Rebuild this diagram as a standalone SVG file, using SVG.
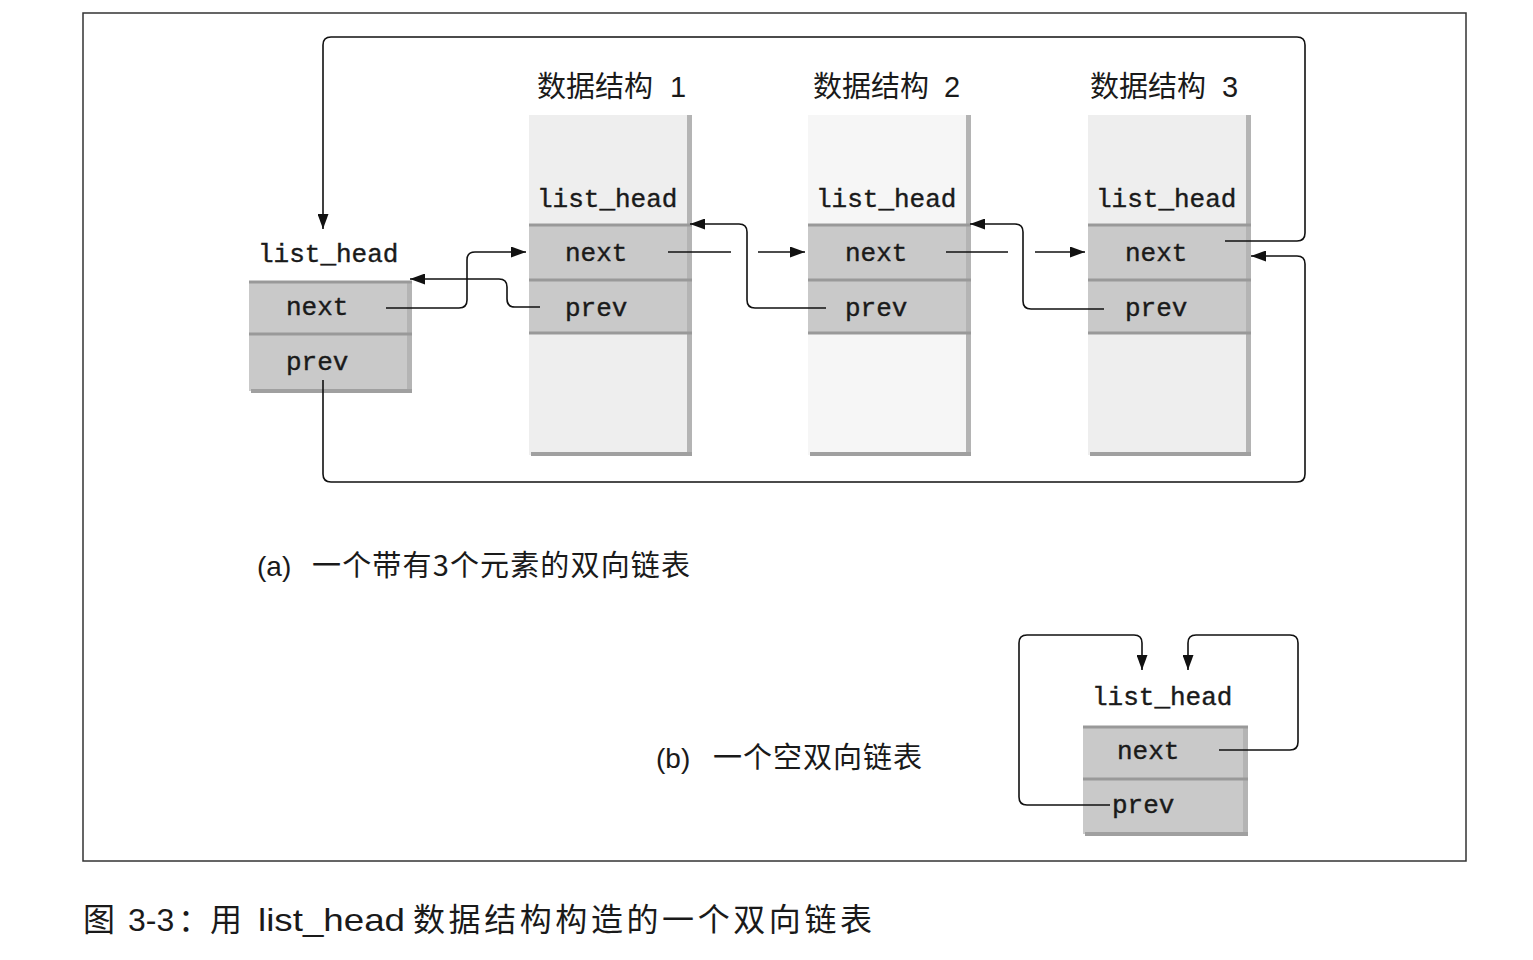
<svg xmlns="http://www.w3.org/2000/svg" width="1533" height="960" viewBox="0 0 1533 960">
<style>
.mono{font-family:"Liberation Mono","Courier New",monospace;font-size:26px;fill:#1a1a1a;stroke:#1a1a1a;stroke-width:0.4}
.cjk{font-family:"Noto Sans CJK SC","Liberation Sans",sans-serif;fill:#1a1a1a}
.lat{font-family:"Liberation Sans",Arial,sans-serif;fill:#1a1a1a}
.conn{fill:none;stroke:#111;stroke-width:1.6}
.row{fill:#c9c9c9}
.light{fill:#eeeeee}
.div{stroke:#999;stroke-width:3}
.shade{fill:#b4b4b4}
</style>
<defs>
<marker id="ah" markerUnits="userSpaceOnUse" markerWidth="15" markerHeight="11" refX="15" refY="5.5" orient="auto">
<path d="M0,0 L15,5.5 L0,11 z" fill="#111"/>
</marker>
</defs>
<rect width="1533" height="960" fill="#fff"/>
<rect x="83" y="13" width="1383" height="848" fill="none" stroke="#333" stroke-width="1.5"/>

<g id="struct1">
<rect class="light" x="529" y="115" width="158" height="340"/>
<rect class="shade" x="687" y="115" width="5" height="341"/>
<rect fill="#a0a0a0" x="531" y="452" width="161" height="4"/>
<rect class="row" x="529" y="224" width="158" height="110"/>
<line class="div" x1="529" y1="225" x2="692" y2="225"/>
<line class="div" x1="529" y1="280" x2="692" y2="280"/>
<line class="div" x1="529" y1="333" x2="692" y2="333"/>
<text class="cjk" x="537" y="97" font-size="29">数据结构</text>
<text class="lat" x="670" y="97" font-size="29">1</text>
<text class="mono" x="537" y="207">list_head</text>
<text class="mono" x="565" y="261">next</text>
<text class="mono" x="565" y="316">prev</text>
</g>

<g id="struct2">
<rect fill="#f6f6f6" x="808" y="115" width="158" height="340"/>
<rect class="shade" x="966" y="115" width="5" height="341"/>
<rect fill="#a0a0a0" x="810" y="452" width="161" height="4"/>
<rect class="row" x="808" y="224" width="158" height="110"/>
<line class="div" x1="808" y1="225" x2="971" y2="225"/>
<line class="div" x1="808" y1="280" x2="971" y2="280"/>
<line class="div" x1="808" y1="333" x2="971" y2="333"/>
<text class="cjk" x="813" y="97" font-size="29">数据结构</text>
<text class="lat" x="944" y="97" font-size="29">2</text>
<text class="mono" x="816" y="207">list_head</text>
<text class="mono" x="845" y="261">next</text>
<text class="mono" x="845" y="316">prev</text>
</g>

<g id="struct3">
<rect class="light" x="1088" y="115" width="158" height="340"/>
<rect class="shade" x="1246" y="115" width="5" height="341"/>
<rect fill="#a0a0a0" x="1090" y="452" width="161" height="4"/>
<rect class="row" x="1088" y="224" width="158" height="110"/>
<line class="div" x1="1088" y1="225" x2="1251" y2="225"/>
<line class="div" x1="1088" y1="280" x2="1251" y2="280"/>
<line class="div" x1="1088" y1="333" x2="1251" y2="333"/>
<text class="cjk" x="1090" y="97" font-size="29">数据结构</text>
<text class="lat" x="1222" y="97" font-size="29">3</text>
<text class="mono" x="1096" y="207">list_head</text>
<text class="mono" x="1125" y="261">next</text>
<text class="mono" x="1125" y="316">prev</text>
</g>

<g id="head_a">
<rect class="row" x="249" y="281" width="158" height="110"/>
<rect class="shade" x="407" y="281" width="5" height="111"/>
<rect fill="#a0a0a0" x="251" y="389" width="161" height="4"/>
<line class="div" x1="249" y1="282" x2="412" y2="282"/>
<line class="div" x1="249" y1="334" x2="412" y2="334"/>
<text class="mono" x="258" y="262">list_head</text>
<text class="mono" x="286" y="315">next</text>
<text class="mono" x="286" y="370">prev</text>
</g>

<g id="head_b">
<rect class="row" x="1083" y="726" width="160" height="108"/>
<rect class="shade" x="1243" y="726" width="5" height="109"/>
<rect fill="#a0a0a0" x="1085" y="832" width="163" height="4"/>
<line class="div" x1="1083" y1="727" x2="1248" y2="727"/>
<line class="div" x1="1083" y1="779" x2="1248" y2="779"/>
<text class="mono" x="1092" y="705">list_head</text>
<text class="mono" x="1117" y="759">next</text>
<text class="mono" x="1112" y="813">prev</text>
</g>

<g id="connectors">
<path class="conn" d="M1225,241 H1297 Q1305,241 1305,233 V45 Q1305,37 1297,37 H331 Q323,37 323,45 V229" marker-end="url(#ah)"/>
<path class="conn" d="M323,380 V474 Q323,482 331,482 H1297 Q1305,482 1305,474 V264 Q1305,256 1297,256 H1251" marker-end="url(#ah)"/>
<path class="conn" d="M386,308 H459 Q467,308 467,300 V260 Q467,252 475,252 H526" marker-end="url(#ah)"/>
<path class="conn" d="M540,307 H515 Q507,307 507,299 V287 Q507,279 499,279 H410" marker-end="url(#ah)"/>
<path class="conn" d="M668,252 H731"/>
<path class="conn" d="M758,252 H805" marker-end="url(#ah)"/>
<path class="conn" d="M826,308 H755 Q747,308 747,300 V232 Q747,224 739,224 H690" marker-end="url(#ah)"/>
<path class="conn" d="M946,252 H1008"/>
<path class="conn" d="M1035,252 H1085" marker-end="url(#ah)"/>
<path class="conn" d="M1104,309 H1031 Q1023,309 1023,301 V232 Q1023,224 1015,224 H970" marker-end="url(#ah)"/>
<path class="conn" d="M1219,750 H1290 Q1298,750 1298,742 V643 Q1298,635 1290,635 H1196 Q1188,635 1188,643 V670" marker-end="url(#ah)"/>
<path class="conn" d="M1110,805 H1027 Q1019,805 1019,797 V643 Q1019,635 1027,635 H1134 Q1142,635 1142,643 V670" marker-end="url(#ah)"/>
</g>

<g id="captions">
<text class="lat" x="257" y="576" font-size="28">(a)</text>
<text class="cjk" x="312" y="576" font-size="29" textLength="378" lengthAdjust="spacing">一个带有3个元素的双向链表</text>
<text class="lat" x="656" y="768" font-size="28">(b)</text>
<text class="cjk" x="713" y="768" font-size="29" textLength="209" lengthAdjust="spacing">一个空双向链表</text>
<text class="cjk" x="83" y="931" font-size="32">图</text>
<text class="lat" x="128" y="931" font-size="32">3-3</text>
<text class="cjk" x="178" y="931" font-size="32">：用</text>
<text class="lat" x="258" y="931" font-size="32" textLength="147" lengthAdjust="spacingAndGlyphs">list_head</text>
<text class="cjk" x="413" y="931" font-size="32" textLength="459" lengthAdjust="spacing">数据结构构造的一个双向链表</text>
</g>
</svg>
